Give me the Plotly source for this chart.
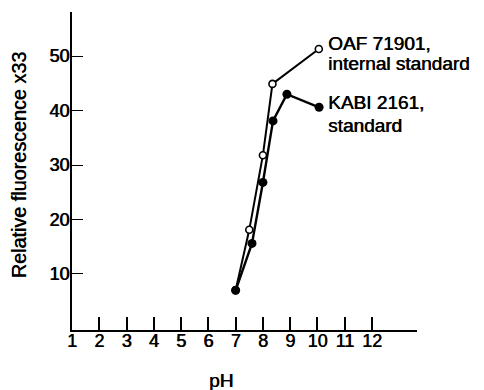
import plotly.graph_objects as go

# Data
oaf_ph = [7.0, 7.5, 8.0, 8.35, 10.05]
oaf_val = [7.0, 18.1, 31.8, 44.9, 51.3]

kabi_ph = [7.0, 7.6, 8.0, 8.37, 8.88, 10.06]
kabi_val = [7.0, 15.6, 26.8, 38.1, 43.0, 40.6]

x_ticks = [1, 2, 3, 4, 5, 6, 7, 8, 9, 10, 11, 12]
y_ticks = [10, 20, 30, 40, 50]

oaf_label = ["OAF 71901,", "internal standard"]
kabi_label = ["KABI 2161,", "standard"]
x_title = "pH"
y_title = "Relative fluorescence x33"

FONT = "Liberation Sans, Arial, sans-serif"
SHADOW = "0.6px 0px 0px black"

fig = go.Figure()
fig.add_trace(go.Scatter(
    x=oaf_ph, y=oaf_val, mode="lines+markers",
    line=dict(color="black", width=2),
    marker=dict(symbol="circle", size=7, color="white",
                line=dict(color="black", width=1.6)),
    showlegend=False, cliponaxis=False, hoverinfo="skip",
))
fig.add_trace(go.Scatter(
    x=kabi_ph, y=kabi_val, mode="lines+markers",
    line=dict(color="black", width=2.4),
    marker=dict(symbol="circle", size=9, color="black",
                line=dict(color="black", width=0)),
    showlegend=False, cliponaxis=False, hoverinfo="skip",
))


def tf(size):
    return dict(family=FONT, size=size, color="black", shadow=SHADOW)


annos = []
for txt, yv in zip(oaf_label, [52.4, 48.7]):
    annos.append(dict(x=10.3, y=yv, xref="x", yref="y", text=txt, showarrow=False,
                      xanchor="left", yanchor="middle", font=tf(19)))
for txt, yv in zip(kabi_label, [41.4, 37.3]):
    annos.append(dict(x=10.3, y=yv, xref="x", yref="y", text=txt, showarrow=False,
                      xanchor="left", yanchor="middle", font=tf(19)))
annos.append(dict(x=6.45, y=-0.16, xref="x", yref="paper", text=x_title, showarrow=False,
                  xanchor="center", yanchor="middle", font=tf(19)))
annos.append(dict(x=-0.1526, y=30.0, xref="paper", yref="y", text=y_title, showarrow=False,
                  textangle=-90, xanchor="center", yanchor="middle", font=tf(19.8)))

fig.update_layout(
    width=484, height=390,
    margin=dict(l=72, r=67, t=12, b=60),
    paper_bgcolor="white", plot_bgcolor="white",
    font=dict(family=FONT, color="black", size=18),
    annotations=annos,
    xaxis=dict(
        range=[1, 13.65], tickvals=x_ticks, ticktext=[str(v) for v in x_ticks],
        automargin=False,
        showgrid=False, zeroline=False, showline=True, linecolor="black", linewidth=2,
        ticks="inside", ticklen=13, tickwidth=1.5, tickcolor="black",
        ticklabelstandoff=-7,
        tickfont=tf(18),
    ),
    yaxis=dict(
        range=[-0.3, 58.1], tickvals=y_ticks, ticktext=[str(v) for v in y_ticks],
        automargin=False,
        showgrid=False, zeroline=False, showline=True, linecolor="black", linewidth=2,
        ticks="inside", ticklen=11, tickwidth=1, tickcolor="black",
        ticklabelstandoff=-3,
        tickfont=tf(18),
    ),
)

fig.write_html(
    "out.html",
    config={"displayModeBar": False},
    post_script="document.body.style.margin='0';document.body.style.overflow='hidden';",
)
